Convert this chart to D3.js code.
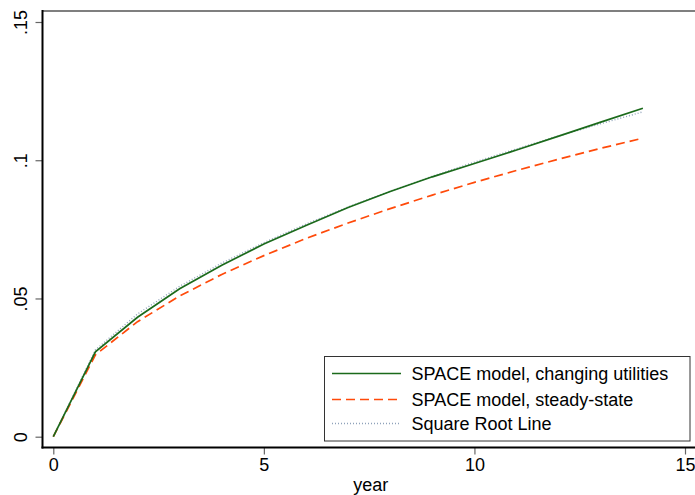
<!DOCTYPE html>
<html>
<head>
<meta charset="utf-8">
<script src="https://cdn.jsdelivr.net/npm/d3@7"></script>
<style>
  body { margin: 0; background: #fff; }
  svg { display: block; font-family: "Liberation Sans", Arial, sans-serif; }
</style>
</head>
<body>
<div id="chart"></div>
<script>
const years = [0, 1, 2, 3, 4, 5, 6, 7, 8, 9, 10, 11, 12, 13, 14];
const changingUtilities = [0, 0.0307, 0.0432, 0.0535, 0.0620, 0.0697, 0.0764, 0.0829, 0.0887, 0.0940, 0.0988, 0.1037, 0.1087, 0.1138, 0.1188];
const steadyState = [0, 0.0296, 0.0416, 0.0509, 0.0587, 0.0655, 0.0717, 0.0773, 0.0825, 0.0874, 0.0920, 0.0963, 0.1004, 0.1043, 0.1080];
const squareRoot = [0, 0.0314, 0.0444, 0.0544, 0.0628, 0.0702, 0.0769, 0.0831, 0.0888, 0.0942, 0.0993, 0.1041, 0.1088, 0.1132, 0.1175];
const xTicks = [0, 5, 10, 15];
const yTicks = [0, 0.05, 0.1, 0.15];
const yTickLabels = ['0', '.05', '.1', '.15'];

const series = [
  { name: 'SPACE model, changing utilities', values: changingUtilities, color: '#1b6a1b', dash: null, width: 1.7 },
  { name: 'SPACE model, steady-state', values: steadyState, color: '#ff4a0a', dash: '9,5', width: 1.7 },
  { name: 'Square Root Line', values: squareRoot, color: '#8fa2ba', dash: '1,2', width: 1.4 },
];

const width = 695;
const height = 495;
const fontSize = 18;

const svg = d3.select('#chart').append('svg')
  .attr('width', width)
  .attr('height', height);

const x = d3.scaleLinear().domain([0, 15]).range([53.3, 685]);
const y = d3.scaleLinear().domain([0, 0.15]).range([436.7, 22]);

const axisLeftX = 42.5;
const axisBottomY = 447.5;

// top border of the plot region
svg.append('line')
  .attr('x1', axisLeftX).attr('x2', width)
  .attr('y1', 11).attr('y2', 11)
  .attr('stroke', '#555')
  .attr('stroke-width', 1.6);

// y axis, labels turned on their side
const yAxis = svg.append('g')
  .attr('transform', `translate(${axisLeftX},0)`)
  .call(d3.axisLeft(y).tickValues(yTicks).tickSize(7)
    .tickFormat((d, i) => yTickLabels[i]));
yAxis.select('.domain').remove();
yAxis.selectAll('.tick line').attr('stroke', '#666').attr('stroke-width', 1.2);
yAxis.selectAll('.tick text')
  .attr('font-size', fontSize)
  .attr('fill', '#000')
  .attr('text-anchor', 'middle')
  .attr('x', 0)
  .attr('y', 0)
  .attr('dy', 0)
  .attr('transform', 'translate(-16,0) rotate(-90)');
svg.append('line')
  .attr('x1', axisLeftX).attr('x2', axisLeftX)
  .attr('y1', 10).attr('y2', axisBottomY + 1)
  .attr('stroke', '#000').attr('stroke-width', 2);

// x axis
const xAxis = svg.append('g')
  .attr('transform', `translate(0,${axisBottomY})`)
  .call(d3.axisBottom(x).tickValues(xTicks).tickSize(7).tickPadding(4)
    .tickFormat(d3.format('d')));
xAxis.select('.domain').remove();
xAxis.selectAll('.tick line').attr('stroke', '#666').attr('stroke-width', 1.2);
xAxis.selectAll('.tick text').attr('font-size', fontSize).attr('fill', '#000');
svg.append('line')
  .attr('x1', axisLeftX - 1).attr('x2', width)
  .attr('y1', axisBottomY).attr('y2', axisBottomY)
  .attr('stroke', '#000').attr('stroke-width', 2);

svg.append('text')
  .attr('x', (axisLeftX + width) / 2 + 2)
  .attr('y', 491)
  .attr('text-anchor', 'middle')
  .attr('font-size', fontSize)
  .text('year');

// lines (square root drawn first, underneath)
const line = d3.line()
  .x((d, i) => x(years[i]))
  .y((d) => y(d));

[series[2], series[1], series[0]].forEach((s) => {
  svg.append('path')
    .datum(s.values)
    .attr('fill', 'none')
    .attr('stroke', s.color)
    .attr('stroke-width', s.width)
    .attr('stroke-dasharray', s.dash)
    .attr('d', line);
});

// legend
const legend = svg.append('g');
legend.append('rect')
  .attr('x', 324.5).attr('y', 356.5)
  .attr('width', 365.5).attr('height', 84.5)
  .attr('fill', '#fff')
  .attr('stroke', '#333')
  .attr('stroke-width', 1);

const rowY = [373.5, 399.5, 423.5];
series.forEach((s, i) => {
  legend.append('line')
    .attr('x1', 332).attr('x2', 401)
    .attr('y1', rowY[i]).attr('y2', rowY[i])
    .attr('stroke', s.color)
    .attr('stroke-width', s.width)
    .attr('stroke-dasharray', s.dash);
  legend.append('text')
    .attr('x', 411.5)
    .attr('y', rowY[i])
    .attr('dy', '0.36em')
    .attr('font-size', fontSize)
    .text(s.name);
});
</script>
</body>
</html>
